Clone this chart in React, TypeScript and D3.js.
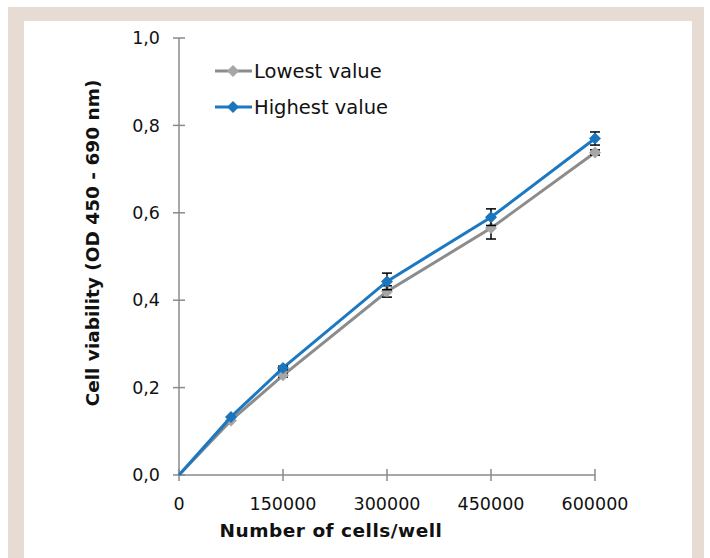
import * as d3 from "d3";

const cells = [0, 75000, 150000, 300000, 450000, 600000];
const lowest = [0, 0.125, 0.228, 0.42, 0.565, 0.738];
const highest = [0, 0.133, 0.245, 0.443, 0.59, 0.77];
const lowestErr = [0, 0, 0.004, 0.013, 0.025, 0.006];
const highestErr = [0, 0, 0.004, 0.019, 0.019, 0.015];
const xTicks = [0, 150000, 300000, 450000, 600000];
const yTicks = [0, 0.2, 0.4, 0.6, 0.8, 1.0];

const FONT = "'DejaVu Sans', sans-serif";

const comma = d3.formatLocale({ decimal: ",", thousands: ".", grouping: [3], currency: ["", ""] }).format(".1f");

type Series = { name: string; values: number[]; err: number[]; line: string; marker: string };

const series: Series[] = [
  { name: "Lowest value", values: lowest, err: lowestErr, line: "#8c8c8c", marker: "#a6a6a6" },
  { name: "Highest value", values: highest, err: highestErr, line: "#1b78c2", marker: "#1b75bc" },
];

function Diamond({ x, y, color, r = 6 }: { x: number; y: number; color: string; r?: number }) {
  return <path d={`M${x},${y - r}L${x + r},${y}L${x},${y + r}L${x - r},${y}Z`} fill={color} />;
}

export default function App() {
  const x = d3.scaleLinear().domain([0, 600000]).range([179, 595]);
  const y = d3.scaleLinear().domain([0, 1]).range([475, 38]);

  const line = d3
    .line<number>()
    .x((_, i) => x(cells[i]))
    .y((d) => y(d));

  return (
    <div style={{ position: "fixed", left: 0, top: 0, width: 710, height: 558 }}>
      <svg width={710} height={558} style={{ display: "block", fontFamily: FONT }}>
        {/* frame */}
        <rect x={8} y={7} width={696} height={560} fill="#e6dcd3" />
        <rect x={24} y={21} width={668} height={560} fill="#ffffff" />

        {/* y axis */}
        <line x1={x(0)} x2={x(0)} y1={y(1)} y2={y(0)} stroke="#8a8a8a" strokeWidth={1.5} />
        {yTicks.map((t) => (
          <g key={t}>
            <line x1={x(0) - 6} x2={x(0) + 6} y1={y(t)} y2={y(t)} stroke="#8a8a8a" strokeWidth={1.5} />
            <text x={160} y={y(t)} dy="0.35em" textAnchor="end" fontSize={17.5} fill="#111">
              {comma(t)}
            </text>
          </g>
        ))}

        {/* x axis */}
        <line x1={x(0)} x2={x(600000)} y1={y(0)} y2={y(0)} stroke="#8a8a8a" strokeWidth={1.5} />
        {xTicks.map((t) => (
          <g key={t}>
            <line x1={x(t)} x2={x(t)} y1={y(0) - 6} y2={y(0) + 6} stroke="#8a8a8a" strokeWidth={1.5} />
            <text x={x(t)} y={510} textAnchor="middle" fontSize={17.5} fill="#111">
              {t}
            </text>
          </g>
        ))}

        {/* titles */}
        <text x={331} y={537} textAnchor="middle" fontSize={18.5} fontWeight="bold" fill="#111" letterSpacing={0.5}>
          Number of cells/well
        </text>
        <text
          transform={`translate(99,243) rotate(-90)`}
          textAnchor="middle"
          fontSize={18.5}
          fontWeight="bold"
          fill="#111"
        >
          Cell viability (OD 450 - 690 nm)
        </text>

        {/* series */}
        {series.map((s) => (
          <g key={s.name}>
            <path d={line(s.values) ?? undefined} fill="none" stroke={s.line} strokeWidth={3} />
            {s.values.map((v, i) =>
              s.err[i] > 0 ? (
                <g key={i} stroke="#000" strokeWidth={1.5}>
                  <line x1={x(cells[i])} x2={x(cells[i])} y1={y(v - s.err[i])} y2={y(v + s.err[i])} />
                  <line x1={x(cells[i]) - 5} x2={x(cells[i]) + 5} y1={y(v - s.err[i])} y2={y(v - s.err[i])} />
                  <line x1={x(cells[i]) - 5} x2={x(cells[i]) + 5} y1={y(v + s.err[i])} y2={y(v + s.err[i])} />
                </g>
              ) : null
            )}
            {s.values.map((v, i) => (i === 0 ? null : <Diamond key={i} x={x(cells[i])} y={y(v)} color={s.marker} />))}
          </g>
        ))}

        {/* legend */}
        {series.map((s, i) => {
          const ly = 71 + i * 36;
          return (
            <g key={s.name}>
              <line x1={215} x2={252} y1={ly} y2={ly} stroke={s.line} strokeWidth={3} />
              <Diamond x={233} y={ly} color={s.marker} />
              <text x={254} y={ly} dy="0.35em" fontSize={19.5} fill="#111">
                {s.name}
              </text>
            </g>
          );
        })}
      </svg>
    </div>
  );
}
